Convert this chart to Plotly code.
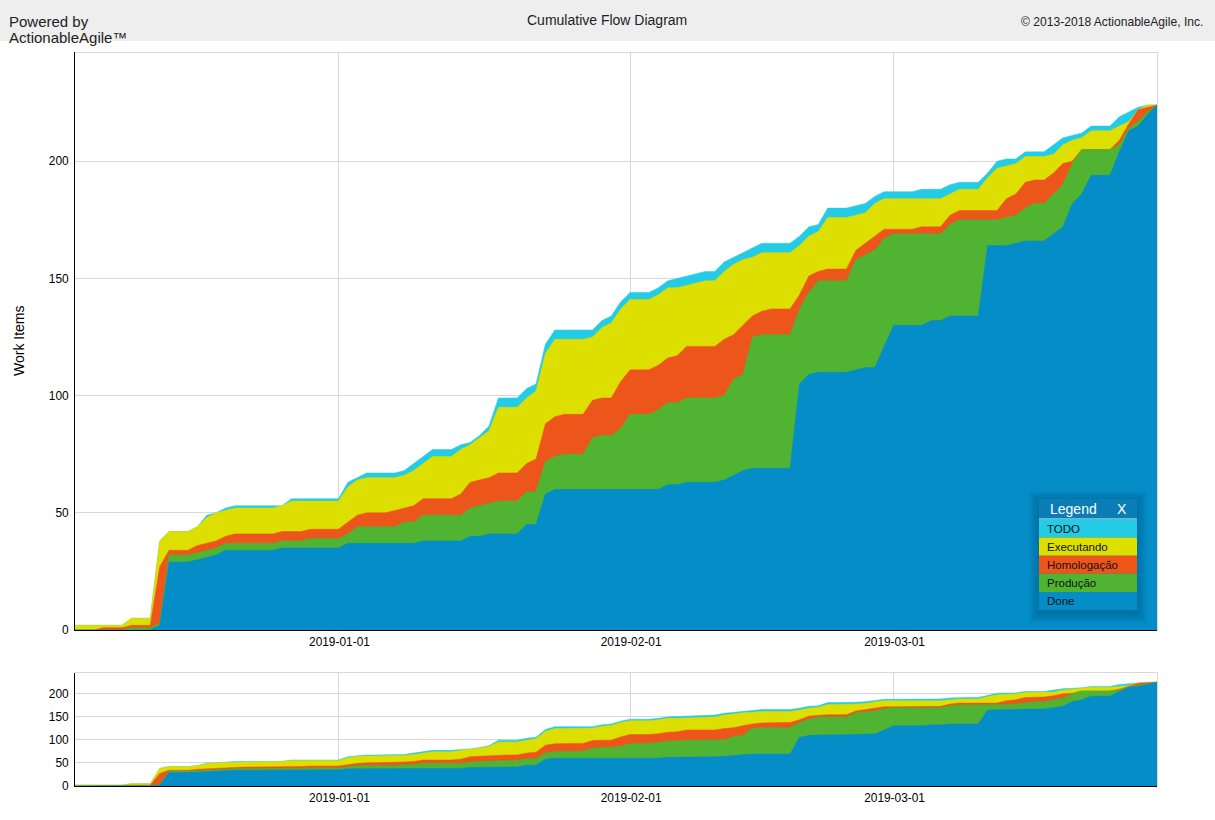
import pandas as pd
import plotly.graph_objects as go

W = 1215
H = 820

# one point per day, cumulative counts
dates = pd.date_range("2018-12-04", periods=116)

done = [0, 0, 0, 0, 0, 0, 0, 0, 0, 2, 29, 29, 29, 30, 31, 32, 34, 34, 34, 34, 34, 34, 35, 35, 35, 35, 35, 35, 35,
        37, 37, 37, 37, 37, 37, 37, 37, 38, 38, 38, 38, 38, 40, 40, 41, 41, 41, 41, 45, 45, 58, 60, 60, 60, 60, 60,
        60, 60, 60, 60, 60, 60, 60, 62, 62, 63, 63, 63, 63, 64, 66, 68, 69, 69, 69, 69, 69, 105, 109, 110, 110, 110,
        110, 111, 112, 112, 121, 130, 130, 130, 130, 132, 132, 134, 134, 134, 134, 164, 164, 164, 165, 166, 166, 166,
        169, 172, 182, 186, 194, 194, 194, 204, 213, 215, 220, 224]
producao = [0, 0, 0, 0, 0, 0, 1, 1, 1, 3, 32, 32, 32, 33, 34, 35, 37, 37, 37, 37, 37, 37, 38, 38, 38, 39, 39, 39, 39,
            41, 44, 44, 44, 44, 44, 46, 46, 49, 49, 49, 49, 49, 52, 53, 54, 55, 55, 55, 59, 59, 72, 74, 75, 75, 75, 82,
            83, 83, 86, 92, 92, 92, 94, 97, 97, 99, 99, 99, 99, 100, 107, 109, 125, 126, 126, 126, 126, 137, 144, 149,
            149, 149, 149, 158, 160, 162, 167, 169, 169, 169, 169, 169, 169, 173, 175, 175, 175, 175, 175, 176, 177,
            180, 182, 182, 186, 190, 199, 205, 205, 205, 205, 207, 214, 217, 221, 224]
homologacao = [0, 0, 0, 1, 1, 1, 2, 2, 2, 27, 34, 34, 34, 36, 37, 38, 40, 41, 41, 41, 41, 41, 42, 42, 42, 43, 43, 43, 43,
               46, 49, 50, 50, 50, 51, 52, 53, 56, 56, 56, 56, 58, 63, 64, 65, 67, 67, 67, 71, 73, 88, 91, 92, 92, 92,
               98, 99, 99, 106, 111, 111, 111, 113, 116, 117, 121, 121, 121, 121, 124, 126, 130, 134, 136, 137, 137,
               137, 143, 151, 153, 154, 154, 154, 162, 165, 168, 171, 171, 171, 171, 172, 172, 172, 177, 179, 179, 179,
               179, 179, 184, 186, 191, 192, 192, 195, 199, 200, 205, 205, 205, 205, 209, 216, 222, 223, 224]
executando = [2, 2, 2, 2, 2, 2, 5, 5, 5, 38, 42, 42, 42, 44, 48, 50, 51, 52, 52, 52, 52, 52, 53, 55, 55, 55, 55, 55, 55,
              61, 64, 65, 65, 65, 65, 66, 68, 71, 74, 74, 74, 77, 79, 82, 85, 95, 95, 95, 99, 102, 118, 124, 124, 124,
              124, 125, 129, 131, 137, 141, 141, 141, 143, 146, 146, 147, 148, 149, 149, 153, 156, 158, 159, 161, 161,
              161, 161, 164, 168, 170, 176, 176, 176, 177, 178, 182, 184, 184, 184, 184, 184, 184, 184, 186, 188, 188,
              188, 193, 197, 198, 199, 202, 202, 202, 203, 207, 209, 210, 213, 213, 213, 215, 217, 222, 224, 224]
todo = [2, 2, 2, 2, 2, 2, 5, 5, 5, 38, 42, 42, 42, 44, 49, 50, 52, 53, 53, 53, 53, 53, 53, 56, 56, 56, 56, 56, 56,
        63, 65, 67, 67, 67, 67, 68, 71, 74, 77, 77, 77, 79, 80, 83, 87, 99, 99, 99, 103, 105, 122, 128, 128, 128, 128,
        128, 132, 134, 140, 144, 144, 144, 146, 149, 150, 151, 152, 153, 153, 157, 159, 161, 163, 165, 165, 165, 165,
        168, 172, 173, 180, 180, 180, 181, 182, 185, 187, 187, 187, 187, 188, 188, 188, 190, 191, 191, 191, 195, 200,
        201, 201, 204, 204, 204, 207, 210, 211, 212, 215, 215, 215, 219, 221, 223, 224, 224]

names = ["TODO", "Executando", "Homologação", "Produção", "Done"]
series = [todo, executando, homologacao, producao, done]
colors = ["#24CBE5", "#DDDF00", "#ED561B", "#50B432", "#058DC7"]

font_name = "Liberation Sans, Arial, sans-serif"


def px(x):
    return x / W


def py(y):
    return 1 - y / H


def rect(x0, y0, x1, y1, fill, opacity=1):
    return dict(type="rect", xref="paper", yref="paper", x0=px(x0), y0=py(y0), x1=px(x1), y1=py(y1),
                fillcolor=fill, opacity=opacity, line=dict(width=0), layer="above")


def line(x0, y0, x1, y1, color, width):
    return dict(type="line", xref="paper", yref="paper", x0=px(x0), y0=py(y0), x1=px(x1), y1=py(y1),
                line=dict(color=color, width=width), layer="above")


def label(x, y, text, size, color="#000000", xanchor="left", textangle=0):
    return dict(xref="paper", yref="paper", x=px(x), y=py(y), text=text, showarrow=False, xanchor=xanchor,
                yanchor="middle", textangle=textangle, font=dict(size=size, color=color), borderpad=0,
                borderwidth=0)


fig = go.Figure()

# both charts, last series on top so each area only shows above the next one
for xa, ya in [("x", "y"), ("x2", "y2")]:
    for name, values, color in zip(names, series, colors):
        fig.add_trace(go.Scatter(
            x=dates,
            y=values,
            name=name,
            mode="lines",
            fill="tozeroy",
            fillcolor=color,
            line=dict(color=color, width=0.5),
            xaxis=xa,
            yaxis=ya,
            showlegend=False,
            hoverinfo="skip",
        ))

x_range = [dates[0], dates[-1]]
x_ticks = ["2019-01-01", "2019-02-01", "2019-03-01"]
grid = "#D8D8D8"

shapes = [
    dict(type="rect", xref="paper", yref="paper", x0=0, x1=1, y0=py(41), y1=1, fillcolor="#EEEEEE",
         line=dict(width=0), layer="below"),
    line(75, 52.5, 1157, 52.5, grid, 1),
    line(1157.5, 52, 1157.5, 630, grid, 1),
    line(75, 672.5, 1157, 672.5, grid, 1),
    line(1157.5, 672.5, 1157.5, 786, grid, 1),
]

# soft shadow behind the legend box
for i in range(10, 0, -1):
    shapes.append(rect(1039 - i, 499 - i + 2, 1137 + i, 611 + i + 2, "#000000", 0.014))

shapes.append(rect(1039, 499, 1137, 519, "#0A7DB5"))
shapes.append(line(1039, 519, 1137, 519, "#D8F0F8", 1))
rows = list(zip(names, colors))
for i, (name, color) in enumerate(rows):
    shapes.append(rect(1039, 519.5 + i * 18.1, 1137, 519.5 + (i + 1) * 18.1, color))

annotations = [
    label(9, 21, "Powered by", 15, "#222222"),
    label(9, 37, "ActionableAgile™", 15, "#222222"),
    label(606.5, 20, "Cumulative Flow Diagram", 14, "#222222", "center"),
    label(1203, 22, "© 2013-2018 ActionableAgile, Inc.", 12.1, "#222222", "right"),
    label(19, 341, "Work Items", 14, "#000000", "center", -90),
    label(1050, 509, "Legend", 14, "#FFFFFF"),
    label(1122, 509, "X", 14, "#FFFFFF", "center"),
]
for i, name in enumerate(names):
    annotations.append(label(1047, 528.5 + i * 18.1, name, 11.5, "#111111"))

tick_font = dict(size=11.9, color="#000000")

fig.update_layout(
    width=W,
    height=H,
    autosize=False,
    margin=dict(l=0, r=0, t=0, b=0),
    paper_bgcolor="#FFFFFF",
    plot_bgcolor="#FFFFFF",
    font=dict(family=font_name, size=12, color="#111111"),
    shapes=shapes,
    annotations=annotations,
    xaxis=dict(
        domain=[px(75), px(1157)], range=x_range, type="date", tickvals=x_ticks, ticktext=x_ticks, showgrid=True,
        gridcolor=grid, showline=True, linecolor="#000000", linewidth=1, ticks="", anchor="y", automargin=False,
        zeroline=False, tickfont=tick_font, ticklabelstandoff=1, ticklabelshift=1,
    ),
    yaxis=dict(
        domain=[py(630), py(52)], range=[0, 246.6], tickvals=[0, 50, 100, 150, 200], showgrid=True, gridcolor=grid,
        showline=True, linecolor="#000000", linewidth=1, ticks="", anchor="x", zeroline=False, automargin=False,
        tickfont=tick_font, ticklabelstandoff=3,
    ),
    xaxis2=dict(
        domain=[px(75), px(1157)], range=x_range, type="date", tickvals=x_ticks, ticktext=x_ticks, showgrid=True,
        gridcolor=grid, showline=True, linecolor="#000000", linewidth=1, ticks="", anchor="y2", automargin=False,
        zeroline=False, tickfont=tick_font, ticklabelstandoff=1, ticklabelshift=1,
    ),
    yaxis2=dict(
        domain=[py(786), py(672.5)], range=[0, 245], tickvals=[0, 50, 100, 150, 200], showgrid=True, gridcolor=grid,
        showline=True, linecolor="#000000", linewidth=1, ticks="", anchor="x2", zeroline=False, automargin=False,
        tickfont=tick_font, ticklabelstandoff=3,
    ),
)

fig.write_html("out.html", config=dict(displayModeBar=False), post_script="document.body.style.margin = '0';")
